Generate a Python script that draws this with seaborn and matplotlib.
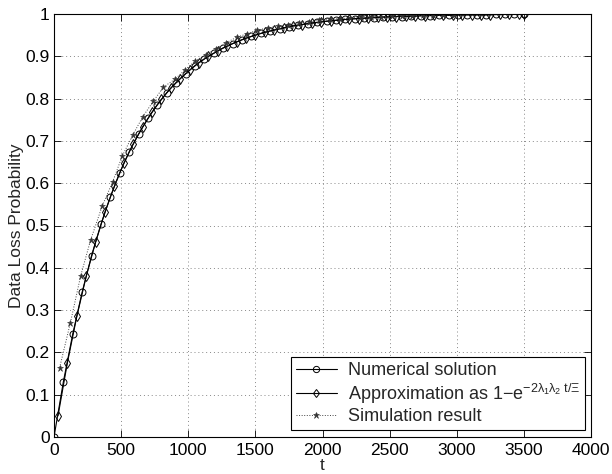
import matplotlib
matplotlib.use("Agg")
import matplotlib.pyplot as plt
import seaborn as sns
import numpy as np

# ---- data ----
t_num = [0, 70, 140, 210, 280, 350, 420, 490, 560, 630, 700, 770, 840, 910, 980,
         1050, 1120, 1190, 1260, 1330, 1400, 1470, 1540, 1610, 1680, 1750, 1820,
         1890, 1960, 2030, 2100, 2170, 2240, 2310, 2380, 2450, 2520, 2590, 2660,
         2730, 2800, 2870, 2940, 3010, 3080, 3150, 3220, 3290, 3360, 3430, 3500]
p_num = [0.000, 0.131, 0.244, 0.343, 0.429, 0.503, 0.568, 0.625, 0.674, 0.716,
         0.753, 0.786, 0.814, 0.838, 0.859, 0.878, 0.894, 0.907, 0.920, 0.930,
         0.939, 0.947, 0.954, 0.960, 0.965, 0.970, 0.974, 0.977, 0.980, 0.983,
         0.985, 0.987, 0.989, 0.990, 0.991, 0.993, 0.994, 0.994, 0.995, 0.996,
         0.996, 0.997, 0.997, 0.998, 0.998, 0.998, 0.998, 0.999, 0.999, 0.999, 0.999]

t_apx = [30, 100, 170, 240, 310, 380, 450, 520, 590, 660, 730, 800, 870, 940, 1010,
         1080, 1150, 1220, 1290, 1360, 1430, 1500, 1570, 1640, 1710, 1780, 1850,
         1920, 1990, 2060, 2130, 2200, 2270, 2340, 2410, 2480, 2550, 2620, 2690,
         2760, 2830, 2900, 2970, 3040, 3110, 3180, 3250, 3320, 3390, 3460, 3500]
p_apx = [0.050, 0.176, 0.285, 0.380, 0.461, 0.532, 0.593, 0.647, 0.693, 0.733,
         0.768, 0.798, 0.825, 0.847, 0.867, 0.885, 0.900, 0.913, 0.924, 0.934,
         0.943, 0.950, 0.957, 0.962, 0.967, 0.972, 0.975, 0.979, 0.981, 0.984,
         0.986, 0.988, 0.989, 0.991, 0.992, 0.993, 0.994, 0.995, 0.995, 0.996,
         0.997, 0.997, 0.997, 0.998, 0.998, 0.998, 0.998, 0.999, 0.999, 0.999, 0.999]

t_sim = [42, 122, 198, 272, 359, 438, 508, 587, 661, 740, 815, 901, 976, 1052,
         1129, 1206, 1283, 1360, 1437, 1514, 1591, 1668, 1745, 1822, 1899, 1976,
         2053, 2130, 2207, 2284, 2361, 2438, 2515, 2592, 2669, 2746, 2823, 2900, 2977]
p_sim = [0.164, 0.270, 0.380, 0.465, 0.546, 0.604, 0.664, 0.714, 0.757, 0.794,
         0.827, 0.846, 0.868, 0.889, 0.903, 0.918, 0.932, 0.945, 0.953, 0.962,
         0.967, 0.971, 0.975, 0.979, 0.982, 0.985, 0.987, 0.989, 0.991, 0.992,
         0.993, 0.994, 0.995, 0.996, 0.996, 0.997, 0.997, 0.998, 0.998]

labels = ["Numerical solution",
          r"Approximation as 1$-$e$^{-2\lambda_1\lambda_2\ t/\Xi}$",
          "Simulation result"]
x_ticks = [0, 500, 1000, 1500, 2000, 2500, 3000, 3500, 4000]
y_ticks = [0, 0.1, 0.2, 0.3, 0.4, 0.5, 0.6, 0.7, 0.8, 0.9, 1.0]
y_ticklabels = ["0", "0.1", "0.2", "0.3", "0.4", "0.5", "0.6", "0.7", "0.8", "0.9", "1"]

sns.set_style("ticks")
plt.rcParams["font.family"] = ["Liberation Sans", "DejaVu Sans"]
plt.rcParams["mathtext.fontset"] = "custom"
plt.rcParams["mathtext.rm"] = "Liberation Sans"
plt.rcParams["mathtext.it"] = "Liberation Sans"
plt.rcParams["mathtext.bf"] = "Liberation Sans:bold"

W, H = 612, 474
fig = plt.figure(figsize=(W / 100, H / 100), dpi=100)
ax = fig.add_axes([54 / W, 1 - 437 / H, (591 - 54) / W, (437 - 14) / H])

sns.lineplot(x=t_num, y=p_num, ax=ax, color="k", linewidth=0.8, marker="o",
             markersize=5, markerfacecolor="none", markeredgecolor="k",
             markeredgewidth=0.7, label=labels[0], sort=False, estimator=None)
sns.lineplot(x=t_apx, y=p_apx, ax=ax, color="k", linewidth=0.8, marker="d",
             markersize=5, markerfacecolor="none", markeredgecolor="k",
             markeredgewidth=0.7, label=labels[1], sort=False, estimator=None)
sns.lineplot(x=t_sim, y=p_sim, ax=ax, color="#444444", linewidth=0.7, linestyle=":",
             marker="*", markersize=5, markerfacecolor="#333333",
             markeredgecolor="#333333", markeredgewidth=0.4,
             label=labels[2], sort=False, estimator=None)

ax.set_xlim(0, 4000)
ax.set_ylim(0, 1)
ax.set_xticks(x_ticks)
ax.set_xticklabels([str(v) for v in x_ticks])
ax.set_yticks(y_ticks)
ax.set_yticklabels(y_ticklabels)
ax.tick_params(direction="in", top=True, right=True, length=5, width=0.6,
               labelsize=12.5, colors="k")
ax.tick_params(axis="x", pad=4)
ax.tick_params(axis="y", pad=3)
for s in ax.spines.values():
    s.set_visible(True)
    s.set_color("k")
    s.set_linewidth(0.8)
ax.grid(True, color="#888888", linestyle=(0, (1, 3)), linewidth=0.7)
ax.set_axisbelow(True)

ax.set_xlabel("t", fontsize=12.5, labelpad=0)
ax.set_ylabel("Data Loss Probability", fontsize=12.5, labelpad=1)

leg = ax.legend(loc="lower right", bbox_to_anchor=((585 - 54) / 537, (437 - 430) / 423),
                borderaxespad=0, fontsize=13, frameon=True, fancybox=False,
                framealpha=1, edgecolor="k", handlelength=2.3, handletextpad=0.6,
                labelspacing=0.15, borderpad=0.25, markerscale=0.9)
leg.get_frame().set_linewidth(0.8)

fig.savefig("out.png", dpi=100, facecolor="white")
